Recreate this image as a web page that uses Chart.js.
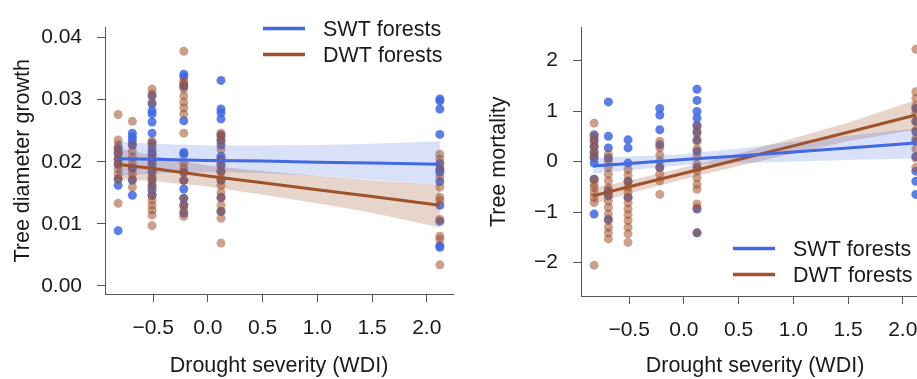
<!DOCTYPE html>
<html>
<head>
<meta charset="utf-8">
<script src="https://cdn.jsdelivr.net/npm/chart.js@4/dist/chart.umd.min.js"></script>
<style>
    html, body { margin: 0; padding: 0; width: 917px; height: 379px; overflow: hidden; background: #fff; }
    canvas { position: absolute; top: 0; }
    #growth-chart { left: 0; }
    #mortality-chart { left: 476px; }
</style>
</head>
<body>
<canvas id="growth-chart" width="460" height="379"></canvas>
<canvas id="mortality-chart" width="470" height="379"></canvas>
<script>
// WDI value of each site group (x positions of the point columns)
const siteWDI = [-0.82, -0.69, -0.51, -0.22, 0.12, 2.12];

// Tree diameter growth, one list per site group
const growthSWT = [
    [0.0222, 0.0214, 0.0204, 0.0196, 0.0172, 0.0162, 0.0089],
    [0.0246, 0.0240, 0.0234, 0.0227, 0.0190, 0.0170, 0.0146],
    [0.0306, 0.0293, 0.0282, 0.0277, 0.0264, 0.0246, 0.0230, 0.0219, 0.0212, 0.0204, 0.0196, 0.0183, 0.0172, 0.0162, 0.0154, 0.0146],
    [0.0341, 0.0337, 0.0324, 0.0321, 0.0266, 0.0215, 0.0212, 0.0183, 0.0170, 0.0156, 0.0141, 0.0130, 0.0117],
    [0.0331, 0.0285, 0.0279, 0.0269, 0.0243, 0.0235, 0.0227, 0.0209, 0.0204, 0.0196, 0.0185, 0.0170, 0.0143, 0.0120],
    [0.0301, 0.0298, 0.0285, 0.0244, 0.0197, 0.0187, 0.0183, 0.0168, 0.0130, 0.0104, 0.0065, 0.0062]
];
const growthDWT = [
    [0.0276, 0.0235, 0.0227, 0.0219, 0.0212, 0.0204, 0.0196, 0.0188, 0.0180, 0.0172, 0.0133],
    [0.0265, 0.0227, 0.0217, 0.0207, 0.0198, 0.0188, 0.0180, 0.0172, 0.0159],
    [0.0317, 0.0309, 0.0296, 0.0233, 0.0225, 0.0212, 0.0200, 0.0188, 0.0177, 0.0168, 0.0159, 0.0146, 0.0138, 0.0130, 0.0122, 0.0114, 0.0097],
    [0.0378, 0.0330, 0.0325, 0.0317, 0.0306, 0.0296, 0.0287, 0.0277, 0.0246, 0.0198, 0.0190, 0.0183, 0.0170, 0.0141, 0.0130, 0.0122, 0.0112],
    [0.0246, 0.0241, 0.0233, 0.0220, 0.0204, 0.0193, 0.0183, 0.0172, 0.0162, 0.0151, 0.0141, 0.0130, 0.0120, 0.0109, 0.0069],
    [0.0212, 0.0204, 0.0190, 0.0175, 0.0159, 0.0143, 0.0138, 0.0107, 0.0080, 0.0075, 0.0034]
];

// Tree mortality, one list per site group
const mortalitySWT = [
    [0.53, 0.43, 0.30, 0.17, 0.07, -0.03, -0.35, -1.04],
    [1.18, 0.50, 0.27, 0.07, -0.58, -0.68, -1.14],
    [0.43, 0.27, -0.03, -0.39, -0.71],
    [1.05, 0.92, 0.63, 0.33, -0.12],
    [1.43, 1.21, 0.99, 0.86, 0.72, 0.59, 0.43, 0.20, -0.12, -0.94, -1.41],
    [1.05, 0.79, 0.59, 0.40, 0.10, -0.19, -0.39, -0.65]
];
const mortalityDWT = [
    [0.76, 0.50, 0.40, 0.30, 0.20, 0.10, -0.35, -0.45, -0.52, -0.62, -0.71, -0.81, -2.05],
    [0.14, 0.00, -0.12, -0.25, -0.38, -0.52, -0.65, -0.78, -0.91, -1.04, -1.17, -1.30, -1.41, -1.53],
    [-0.16, -0.27, -0.39, -0.50, -0.60, -0.71, -0.82, -0.94, -1.05, -1.17, -1.30, -1.43, -1.60],
    [0.40, 0.27, 0.13, 0.00, -0.12, -0.25, -0.38, -0.65],
    [0.69, 0.55, 0.40, 0.25, 0.10, -0.05, -0.18, -0.32, -0.45, -0.55, -0.84, -0.92, -1.41],
    [2.22, 1.38, 1.25, 1.10, 0.95, 0.80, 0.62, 0.45, 0.25, 0.07, -0.12]
];

// Fitted lines and confidence bands, read at these WDI values
const fitX = [-0.83, -0.5, 0, 0.5, 1.0, 1.5, 2.12];
const growthFitSWT = [0.0205, 0.0204, 0.0202, 0.0201, 0.0199, 0.0198, 0.0196];
const growthUpSWT  = [0.0233, 0.0229, 0.0226, 0.0226, 0.0227, 0.0229, 0.0233];
const growthLoSWT  = [0.0177, 0.0181, 0.0184, 0.0182, 0.0177, 0.0171, 0.0163];
const growthFitDWT = [0.0196, 0.0189, 0.0177, 0.0166, 0.0155, 0.0144, 0.0130];
const growthUpDWT  = [0.0222, 0.0210, 0.0194, 0.0185, 0.0177, 0.0170, 0.0163];
const growthLoDWT  = [0.0172, 0.0169, 0.0160, 0.0147, 0.0133, 0.0118, 0.0094];

const mortFitSWT = [-0.09, -0.04, 0.04, 0.11, 0.19, 0.27, 0.365];
const mortUpSWT  = [0.07, 0.10, 0.15, 0.26, 0.39, 0.51, 0.66];
const mortLoSWT  = [-0.24, -0.17, -0.07, -0.03, 0.00, 0.03, 0.06];
const mortFitDWT = [-0.68, -0.50, -0.23, 0.04, 0.31, 0.58, 0.92];
const mortUpDWT  = [-0.52, -0.38, -0.12, 0.16, 0.46, 0.77, 1.22];
const mortLoDWT  = [-0.84, -0.63, -0.35, -0.09, 0.16, 0.40, 0.63];

const xTicks = [-0.5, 0, 0.5, 1.0, 1.5, 2.0];
const growthTicks = [0, 0.01, 0.02, 0.03, 0.04];
const mortalityTicks = [-2, -1, 0, 1, 2];

const BLUE = '#4169e1';
const BROWN = '#a0522d';
const FONT = "'Liberation Sans', Arial, sans-serif";
const TEXT = '#1a1a1a';
const AXIS = '#555';

const minus = s => s.replace('-', '\u2212');

function groupPoints(groups) {
    const pts = [];
    groups.forEach((vals, i) => vals.forEach(v => pts.push({ x: siteWDI[i], y: v })));
    return pts;
}

function curve(ys) {
    return fitX.map((x, i) => ({ x: x, y: ys[i] }));
}

function buildDatasets(swt, dwt, fitS, upS, loS, fitD, upD, loD) {
    const lineOpts = { type: 'line', showLine: true, pointRadius: 0, borderWidth: 3, fill: false };
    const bandOpts = { type: 'line', showLine: true, pointRadius: 0, borderWidth: 0 };
    return [
        { ...lineOpts, data: curve(fitS), borderColor: BLUE, order: 0 },
        { ...lineOpts, data: curve(fitD), borderColor: BROWN, order: 0 },
        { ...bandOpts, data: curve(upS), fill: '+1', backgroundColor: 'rgba(65, 105, 225, 0.2)', borderColor: 'transparent', order: 1 },
        { ...bandOpts, data: curve(loS), fill: false, borderColor: 'transparent', order: 1 },
        { ...bandOpts, data: curve(upD), fill: '+1', backgroundColor: 'rgba(160, 82, 45, 0.25)', borderColor: 'transparent', order: 1 },
        { ...bandOpts, data: curve(loD), fill: false, borderColor: 'transparent', order: 1 },
        { data: groupPoints(dwt), pointRadius: 4.5, pointBorderWidth: 0, backgroundColor: 'rgba(160, 82, 45, 0.55)', order: 2 },
        { data: groupPoints(swt), pointRadius: 4.5, pointBorderWidth: 0, backgroundColor: 'rgba(65, 105, 225, 0.85)', order: 3 }
    ];
}

// legend drawn inside the plot area, R style
const cornerLegend = {
    id: 'cornerLegend',
    afterDraw(chart, args, opts) {
        const ctx = chart.ctx;
        const a = chart.chartArea;
        ctx.save();
        ctx.font = '21.5px ' + FONT;
        ctx.textBaseline = 'middle';
        ctx.textAlign = 'left';
        opts.items.forEach((it, i) => {
            const y = a.top + opts.dy + i * opts.gap;
            ctx.strokeStyle = it.color;
            ctx.lineWidth = 3.5;
            ctx.beginPath();
            ctx.moveTo(a.left + opts.dx, y);
            ctx.lineTo(a.left + opts.dx + 42, y);
            ctx.stroke();
            ctx.fillStyle = TEXT;
            ctx.fillText(it.label, a.left + opts.tx, y + 1);
        });
        ctx.restore();
    }
};

function axisStyle() {
    return {
        grid: { drawOnChartArea: false, drawTicks: true, tickLength: 8, color: AXIS, lineWidth: 1 },
        border: { display: true, color: AXIS, width: 1 },
        ticks: { color: TEXT, font: { family: FONT, size: 21 } },
        title: { display: true, color: TEXT, font: { family: FONT, size: 21.5 } }
    };
}

function renderPanel(canvasId, cfg) {
    const xAxis = axisStyle();
    xAxis.min = -0.94;
    xAxis.max = 2.24;
    xAxis.ticks.padding = 14;
    xAxis.ticks.maxRotation = 0;
    xAxis.ticks.callback = v => minus(v.toFixed(1));
    xAxis.title.text = 'Drought severity (WDI)';
    xAxis.title.padding = { top: 0, bottom: 0 };
    xAxis.afterBuildTicks = s => { s.ticks = xTicks.map(v => ({ value: v })); };
    xAxis.afterFit = s => { s.height = cfg.xHeight; };

    const yAxis = axisStyle();
    yAxis.min = cfg.yMin;
    yAxis.max = cfg.yMax;
    yAxis.ticks.padding = 15;
    yAxis.ticks.callback = cfg.yFormat;
    yAxis.title.text = cfg.yTitle;
    yAxis.title.padding = { top: 10, bottom: 0 };
    yAxis.afterBuildTicks = s => { s.ticks = cfg.yTicks.map(v => ({ value: v })); };
    yAxis.afterFit = s => { s.width = 105; };

    new Chart(document.getElementById(canvasId), {
        type: 'scatter',
        data: { datasets: cfg.datasets },
        options: {
            responsive: false,
            animation: false,
            layout: { padding: cfg.padding },
            plugins: {
                legend: { display: false },
                tooltip: { enabled: false },
                cornerLegend: cfg.legend
            },
            scales: { x: xAxis, y: yAxis }
        },
        plugins: [cornerLegend]
    });
}

const legendItems = [
    { label: 'SWT forests', color: BLUE },
    { label: 'DWT forests', color: BROWN }
];

renderPanel('growth-chart', {
    datasets: buildDatasets(growthSWT, growthDWT, growthFitSWT, growthUpSWT, growthLoSWT, growthFitDWT, growthUpDWT, growthLoDWT),
    yMin: -0.0013, yMax: 0.0416,
    yTicks: growthTicks,
    yFormat: v => v.toFixed(2),
    yTitle: 'Tree diameter growth',
    padding: { top: 22, right: 7, left: 0, bottom: 0 },
    xHeight: 85,
    legend: { items: legendItems, dx: 158, dy: 1, gap: 26, tx: 218 }
});

renderPanel('mortality-chart', {
    datasets: buildDatasets(mortalitySWT, mortalityDWT, mortFitSWT, mortUpSWT, mortLoSWT, mortFitDWT, mortUpDWT, mortLoDWT),
    yMin: -2.66, yMax: 2.65,
    yTicks: mortalityTicks,
    yFormat: v => minus(String(v)),
    yTitle: 'Tree mortality',
    padding: { top: 25, right: 17, left: 0, bottom: 0 },
    xHeight: 83,
    legend: { items: legendItems, dx: 152, dy: 221, gap: 26, tx: 212 }
});
</script>
</body>
</html>
